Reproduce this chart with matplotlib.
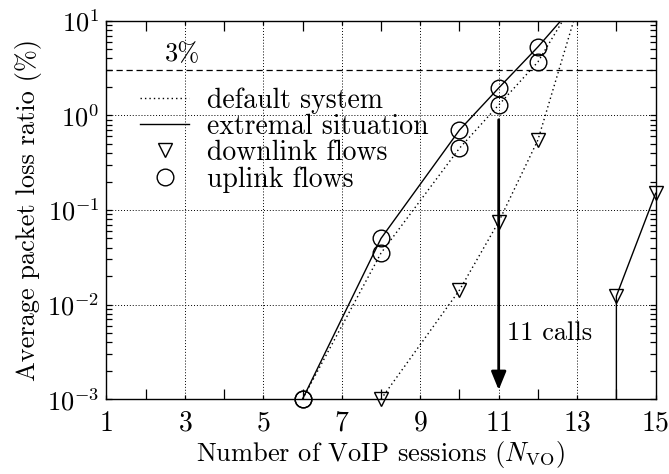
import numpy as np
import matplotlib
matplotlib.use("Agg")
from matplotlib import pyplot as plt
from matplotlib.lines import Line2D

plt.rcParams['font.family'] = 'serif'
plt.rcParams['font.serif'] = ['cmr10', 'DejaVu Serif']
plt.rcParams['mathtext.fontset'] = 'cm'
plt.rcParams['axes.formatter.use_mathtext'] = True

# default system
up_def_x = [6, 8, 10, 11, 12, 13]
up_def_y = [0.001, 0.035, 0.45, 1.29, 3.68, 18.0]
down_def_x = [8, 10, 11, 12, 13]
down_def_y = [0.001, 0.0142, 0.075, 0.55, 13.3]

# extremal situation
up_ext_x = [6, 8, 10, 11, 12, 13]
up_ext_y = [0.001, 0.05, 0.70, 1.95, 5.3, 15.8]
down_ext_x = [14, 14, 15]
down_ext_y = [1e-5, 0.0123, 0.15]  # first point: zero loss, drawn as drop to axis

threshold = 3.0
capacity = 11

FS = 19

fig, ax = plt.subplots(figsize=(6.69, 4.74), dpi=100)
fig.subplots_adjust(left=0.159, right=0.980, top=0.956, bottom=0.158)

ax.set_yscale('log')
ax.set_xlim(1, 15)
ax.set_ylim(1e-3, 1e1)

dot = (0, (1, 2.2))
ymin, ymax = ax.get_ylim()


def series(x, y, ls, marker, ms):
    x = np.array(x, float)
    y = np.array(y, float)
    ax.plot(x, y, color='black', ls=ls, lw=1.0)
    keep = (y >= ymin) & (y <= ymax)
    ax.plot(x[keep], y[keep], ls='none', marker=marker, ms=ms, mfc='none',
            mec='black', mew=1.0, clip_on=False, zorder=5)


series(up_def_x, up_def_y, dot, 'o', 12)
series(down_def_x, down_def_y, dot, 'v', 10)
series(up_ext_x, up_ext_y, '-', 'o', 12)
series(down_ext_x, down_ext_y, '-', 'v', 10)

ax.axhline(threshold, color='black', ls=(0, (5, 3)), lw=0.9)
ax.text(2.5, 3.3, '3%', fontsize=FS, va='bottom', ha='left')

ax.annotate('', xy=(capacity, 1.25e-3), xytext=(capacity, 0.9),
            arrowprops=dict(arrowstyle='-|>,head_length=1.1,head_width=0.45',
                            color='black', lw=2.0, shrinkA=0, shrinkB=0))
ax.text(capacity + 0.2, 0.005, '11 calls', fontsize=FS, va='center', ha='left')

ax.set_xticks(np.arange(1, 16, 2))
ax.set_xticks(np.arange(2, 15, 2), minor=True)
ax.grid(True, which='major', color='black', ls=(0, (1, 2)), lw=0.7)
ax.tick_params(which='both', direction='in', top=True, right=True, width=0.9)
ax.tick_params(axis='x', which='major', length=3, pad=8, labelsize=20)
ax.tick_params(axis='x', which='minor', length=7)
ax.tick_params(axis='y', which='major', length=4, pad=5, labelsize=19)
ax.tick_params(axis='y', which='minor', length=4)
for s in ax.spines.values():
    s.set_linewidth(1.0)

ax.set_xlabel(r'Number of VoIP sessions ($N_{\mathrm{VO}}$)', fontsize=FS, labelpad=2)
ax.set_ylabel('Average packet loss ratio (%)', fontsize=FS, labelpad=4)

handles = [
    Line2D([], [], color='black', ls=dot, lw=1.0),
    Line2D([], [], color='black', ls='-', lw=1.0),
    Line2D([], [], ls='none', marker='v', ms=10, mfc='none', mec='black'),
    Line2D([], [], ls='none', marker='o', ms=12, mfc='none', mec='black'),
]
labels = ['default system', 'extremal situation', 'downlink flows', 'uplink flows']
ax.legend(handles, labels, loc='upper left', bbox_to_anchor=(0.062, 0.825),
          frameon=False, fontsize=20, handlelength=1.75, labelspacing=0.0,
          handletextpad=0.66, borderaxespad=0, borderpad=0)

fig.savefig('out.png', dpi=100)
